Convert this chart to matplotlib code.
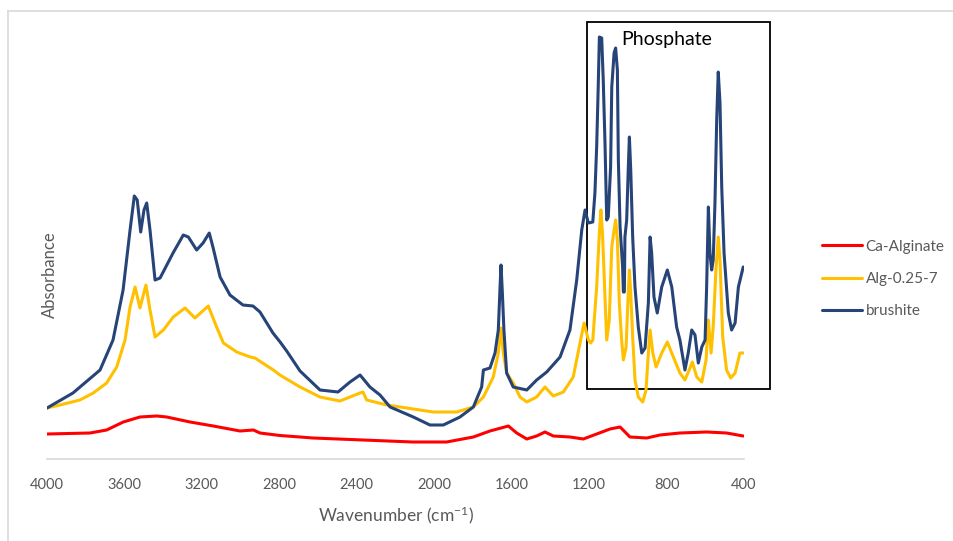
import matplotlib
matplotlib.use("Agg")
import matplotlib.pyplot as plt
from matplotlib.lines import Line2D
from matplotlib.patches import Rectangle

plt.rcParams['font.family'] = ['Lato', 'DejaVu Sans']
plt.rcParams['mathtext.fontset'] = 'custom'
plt.rcParams['mathtext.rm'] = 'Lato'
plt.rcParams['mathtext.it'] = 'Lato:italic'

# FTIR spectra: wavenumber (cm-1) vs absorbance (a.u.)
wn_brushite = [4000, 3866, 3726, 3659, 3607, 3571, 3549, 3534, 3516, 3499, 3485, 3468,
               3442, 3416, 3349, 3296, 3270, 3227, 3194, 3162, 3143, 3106, 3055, 2988,
               2936, 2900, 2833, 2796, 2762, 2693, 2590, 2497, 2435, 2383, 2332, 2280,
               2228, 2108, 2022, 1953, 1867, 1798, 1755, 1746, 1712, 1686, 1669, 1660,
               1655, 1648, 1640, 1626, 1592, 1522, 1471, 1419, 1350, 1299, 1264, 1238,
               1221, 1204, 1181, 1170, 1161, 1153, 1147, 1135, 1127, 1118, 1109, 1101,
               1089, 1083, 1071, 1063, 1054, 1049, 1040, 1027, 1023, 1018, 1015, 1006,
               998, 992, 985, 975, 963, 946, 928, 911, 894, 885, 877, 865, 848, 825,
               796, 773, 748, 731, 705, 688, 670, 653, 636, 618, 601, 593, 584, 576,
               567, 559, 550, 541, 533, 524, 515, 503, 481, 464, 446, 429, 404]
abs_brushite = [0.51, 0.66, 0.89, 1.19, 1.69, 2.29, 2.63, 2.59, 2.27, 2.49, 2.56, 2.29,
                1.79, 1.81, 2.06, 2.24, 2.22, 2.09, 2.16, 2.26, 2.12, 1.82, 1.64, 1.54,
                1.53, 1.47, 1.26, 1.17, 1.08, 0.88, 0.69, 0.67, 0.77, 0.84, 0.72, 0.64,
                0.52, 0.42, 0.34, 0.34, 0.42, 0.52, 0.72, 0.89, 0.91, 1.06, 1.29, 1.72,
                1.94, 1.66, 1.29, 0.86, 0.72, 0.69, 0.79, 0.87, 1.02, 1.29, 1.79, 2.29,
                2.49, 2.36, 2.37, 2.66, 3.12, 3.72, 4.22, 4.21, 3.79, 3.16, 2.39, 2.42,
                2.92, 3.72, 4.06, 4.11, 3.89, 2.99, 2.32, 1.92, 1.67, 1.67, 2.22, 2.39,
                2.89, 3.22, 2.89, 2.22, 1.72, 1.32, 1.06, 1.11, 1.56, 2.22, 2.06, 1.62,
                1.46, 1.72, 1.89, 1.72, 1.32, 1.19, 0.89, 1.06, 1.29, 1.24, 0.96, 1.12,
                1.19, 1.72, 2.52, 2.06, 1.89, 1.99, 2.56, 3.39, 3.87, 3.56, 2.72, 2.06,
                1.46, 1.29, 1.36, 1.72, 1.92]

wn_alg = [4000, 3933, 3830, 3761, 3692, 3640, 3597, 3571, 3545, 3520, 3489, 3468, 3442,
          3399, 3348, 3287, 3236, 3167, 3124, 3089, 3020, 2951, 2926, 2831, 2797, 2693,
          2590, 2487, 2383, 2368, 2349, 2245, 2108, 2005, 1884, 1798, 1746, 1695, 1669,
          1655, 1643, 1626, 1592, 1557, 1522, 1471, 1428, 1385, 1333, 1282, 1247, 1226,
          1204, 1192, 1181, 1161, 1147, 1139, 1130, 1118, 1109, 1096, 1083, 1071, 1063,
          1054, 1044, 1032, 1023, 1009, 1000, 992, 985, 975, 963, 946, 923, 906, 894,
          885, 871, 854, 825, 796, 765, 731, 705, 679, 667, 644, 618, 596, 584, 570,
          559, 545, 533, 524, 510, 490, 469, 446, 421, 404]
abs_alg = [0.51, 0.54, 0.59, 0.66, 0.76, 0.92, 1.19, 1.52, 1.72, 1.51, 1.74, 1.49, 1.22,
           1.29, 1.42, 1.51, 1.41, 1.53, 1.32, 1.16, 1.07, 1.02, 1.01, 0.89, 0.84, 0.72,
           0.62, 0.58, 0.66, 0.67, 0.59, 0.54, 0.50, 0.47, 0.47, 0.52, 0.62, 0.82, 1.06,
           1.31, 1.06, 0.86, 0.76, 0.62, 0.57, 0.62, 0.72, 0.63, 0.67, 0.82, 1.16, 1.36,
           1.19, 1.16, 1.19, 1.72, 2.26, 2.49, 2.22, 1.62, 1.19, 1.39, 2.12, 2.29, 2.39,
           2.19, 1.56, 1.19, 0.99, 1.12, 1.56, 1.89, 1.66, 1.22, 0.79, 0.62, 0.57, 0.69,
           1.06, 1.29, 1.06, 0.92, 1.06, 1.17, 1.02, 0.86, 0.79, 0.91, 0.97, 0.82, 0.77,
           0.99, 1.39, 1.06, 1.32, 1.89, 2.22, 1.99, 1.22, 0.89, 0.81, 0.86, 1.06, 1.06]

wn_ca = [4000, 3778, 3692, 3606, 3520, 3433, 3382, 3261, 3141, 3003, 2934, 2900, 2797,
         2693, 2626, 2368, 2110, 1936, 1798, 1712, 1617, 1574, 1522, 1471, 1428, 1385,
         1299, 1230, 1161, 1092, 1040, 989, 902, 834, 731, 593, 490, 404]
abs_ca = [0.25, 0.26, 0.29, 0.37, 0.42, 0.43, 0.42, 0.37, 0.33, 0.28, 0.29, 0.26, 0.235,
          0.22, 0.21, 0.19, 0.17, 0.17, 0.22, 0.28, 0.33, 0.26, 0.20, 0.23, 0.27, 0.23,
          0.22, 0.20, 0.25, 0.30, 0.32, 0.22, 0.21, 0.24, 0.26, 0.27, 0.26, 0.23]

series_names = ['Ca-Alginate', 'Alg-0.25-7', 'brushite']
series_colors = ['#FF0000', '#FFC000', '#264478']

W, H = 954, 541
fig = plt.figure(figsize=(W / 100, H / 100), dpi=100)
ax = fig.add_axes([47 / W, (H - 459) / H, 697 / W, 444 / H])

line_kw = dict(lw=2.2, solid_joinstyle='round', solid_capstyle='round')
ax.plot(wn_ca, abs_ca, color=series_colors[0], label=series_names[0], **line_kw)
ax.plot(wn_alg, abs_alg, color=series_colors[1], label=series_names[1], **line_kw)
ax.plot(wn_brushite, abs_brushite, color=series_colors[2], label=series_names[2], **line_kw)

ax.set_xlim(4000, 400)
ax.set_ylim(0, 4.44)
ax.set_xticks(range(4000, 399, -400))
ax.set_yticks([])
for side in ['top', 'right', 'left']:
    ax.spines[side].set_visible(False)
ax.spines['bottom'].set_color('#D9D9D9')
ax.spines['bottom'].set_linewidth(1.2)
ax.tick_params(axis='x', length=0, pad=14, labelsize=10.5, labelcolor='#595959')

ax.set_xlabel('Wavenumber (cm$^{-1}$)', fontsize=12.5, color='#595959', labelpad=9)
fig.text(50 / W, 1 - 275 / H, 'Absorbance', rotation=90, ha='center', va='center',
         fontsize=12, color='#595959')

# phosphate band box
box = Rectangle((1209, 0.70), 266 - 1209, 4.37 - 0.70, fill=False, edgecolor='black',
                lw=1.3, clip_on=False)
ax.add_patch(box)
ax.text(799, 4.19, 'Phosphate', ha='center', va='center', fontsize=14, color='black')

fig.legend(loc='center left', bbox_to_anchor=(816 / W, 1 - 279 / H), frameon=False,
           fontsize=11, labelcolor='#595959', handlelength=2.6, handletextpad=0.25,
           labelspacing=1.2, borderaxespad=0)

# chart area border
fig.add_artist(Line2D([8 / W, 8 / W], [0, 1 - 11 / H], transform=fig.transFigure,
                      color='#D9D9D9', lw=1.2))
fig.add_artist(Line2D([8 / W, 1], [1 - 11 / H, 1 - 11 / H], transform=fig.transFigure,
                      color='#D9D9D9', lw=1.2))

fig.savefig('out.png', dpi=100, facecolor='white')
